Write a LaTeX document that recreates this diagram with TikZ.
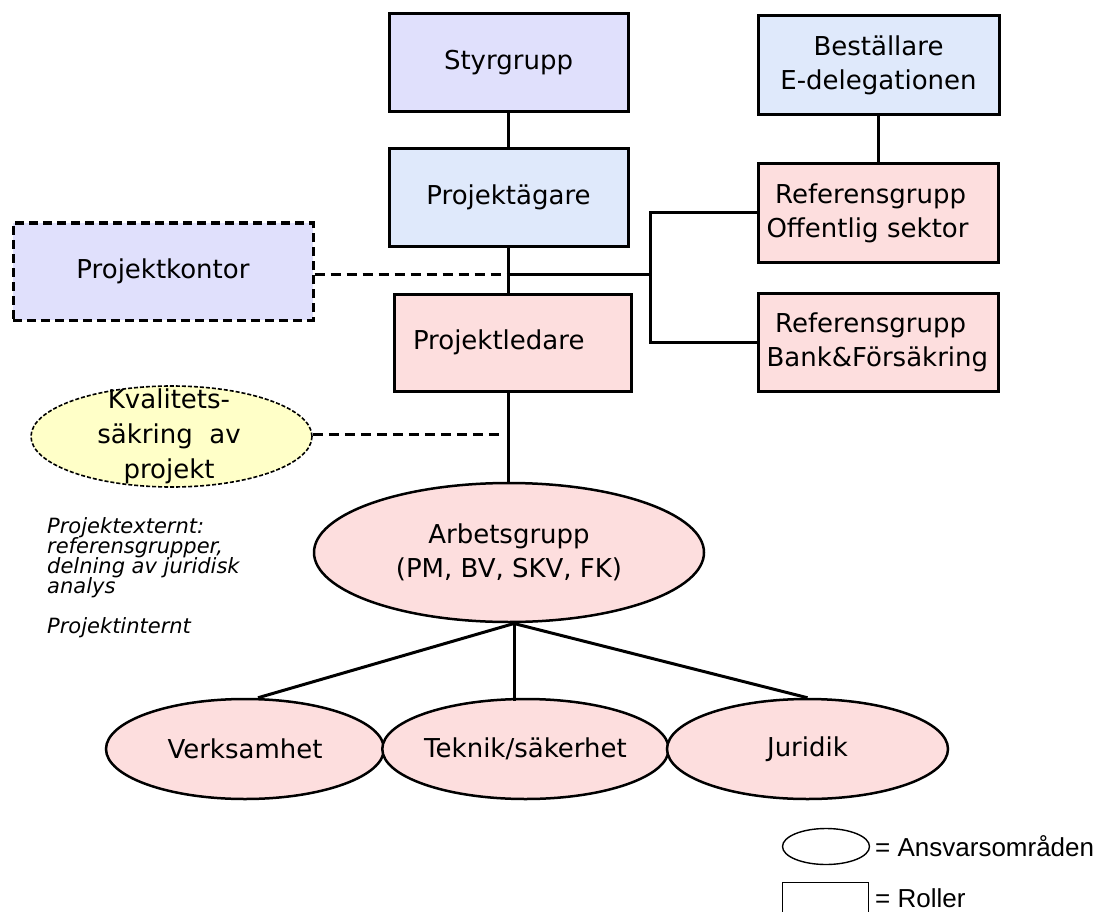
\documentclass[tikz,border=0pt]{standalone}
\usepackage{fontspec}
\setmainfont{DejaVu Sans}
\newfontfamily\legendfont{Liberation Sans}
\usetikzlibrary{shapes.geometric,calc}

\definecolor{lavfill}{RGB}{224,224,252}
\definecolor{bluefill}{RGB}{223,233,251}
\definecolor{pinkfill}{RGB}{253,222,222}
\definecolor{yellowfill}{RGB}{255,255,200}

\newcommand\boxfont{\fontsize{26}{34}\selectfont}
\newcommand\notefont{\fontsize{21}{20}\selectfont\itshape\lineskiplimit=-50pt\relax}
\newcommand\keyfont{\legendfont\fontsize{26}{30}\selectfont}

\tikzset{
  rolebox/.style={draw, rectangle, line width=3pt, inner sep=0pt, align=center, font=\boxfont},
  area/.style={draw, ellipse, line width=2.5pt, fill=pinkfill, inner sep=0pt, align=center, font=\boxfont},
  link/.style={line width=3pt},
  dlink/.style={line width=3pt, dash pattern=on 10pt off 6pt},
  keytext/.style={anchor=west, inner sep=0pt, font=\keyfont},
}

\begin{document}
\begin{tikzpicture}[x=1pt,y=-1pt]
\useasboundingbox (0,0) rectangle (1108,912);
\clip (0,0) rectangle (1108,912);

% roles
\node[rolebox, fill=lavfill, minimum width=239, minimum height=98] (styr) at (508.5,63) {Styrgrupp};
\node[rolebox, fill=bluefill, minimum width=241, minimum height=99] (best) at (878.5,65.5) {Beställare\\E-delegationen};
\node[rolebox, fill=bluefill, minimum width=239, minimum height=97] (pag) at (508.5,197.5) {Projektägare};
\node[rolebox, fill=lavfill, dash pattern=on 9pt off 5pt, minimum width=300, minimum height=97] (pk) at (163,271.5) {Projektkontor};
\node[rolebox, fill=pinkfill, minimum height=97, align=left, text width=199, inner xsep=19] (pl) at (512.5,342.5) {Projektledare};
\node[rolebox, fill=pinkfill, minimum height=98, align=left, text width=224, inner xsep=8] (refo) at (878.5,213) {\ Referensgrupp\\Offentlig sektor};
\node[rolebox, fill=pinkfill, minimum height=98, align=left, text width=224, inner xsep=8] (refb) at (878.5,342) {\ Referensgrupp\\Bank\&Försäkring};

% quality assurance
\node[ellipse, draw, fill=yellowfill, line width=1.6pt, dash pattern=on 4pt off 2pt,
      minimum width=281, minimum height=101, inner sep=0pt] (kval) at (171.5,436.5) {};
\node[align=center, inner sep=0pt, font=\fontsize{26}{35}\selectfont] (kvaltext) at (169,436.5)
  {Kvalitets-\\säkring\ \ av\\projekt};

% areas of responsibility
\node[area, minimum width=390, minimum height=139] (ag) at (509,552.5) {Arbetsgrupp\\(PM, BV, SKV, FK)};
\node[area, minimum width=278, minimum height=100] (verk) at (245,749) {Verksamhet};
\node[area, minimum width=279, minimum height=100] (tek) at (525.5,749) {Teknik/säkerhet};
\node[area, minimum width=281, minimum height=100] (jur) at (807.5,749) {Juridik};

% notes
\node[anchor=north west, inner sep=0pt, align=left, font=\notefont] (notes) at (47,517)
  {Projektexternt:\\referensgrupper,\\delning av juridisk\\analys\\[20pt]Projektinternt};

% connectors
\coordinate (j1) at (508.5,274);
\coordinate (j2) at (650,274);
\coordinate (kq) at (504,434.5);
\coordinate (agb) at (514,623.5);

\draw[link] (styr.south) -- (pag.north);
\draw[link] (best.south) -- (refo.north);
\draw[link] (pag.south) -- (pag.south |- pl.north);
\draw[link] (j1) -- (j2);
\draw[link] (refo.west) -- (j2 |- refo.west) -- (j2 |- refb.west) -- (refb.west);
\draw[dlink] (pk.east |- j1) -- (j1);
\draw[link] (pag.south |- pl.south) -- (pag.south |- ag.north);
\draw[dlink] (kval.east |- kq) -- (kq);
\draw[link] (agb) -- ([xshift=13pt]verk.north);
\draw[link] (agb) -- ([yshift=-3pt]agb |- tek.north);
\draw[link] (agb) -- (jur.north);

% key
\node[ellipse, draw, line width=1.4pt, minimum width=87, minimum height=36, inner sep=0pt] (keyE) at (826,846.5) {};
\node[keytext] (keyEt) at (875,846) {= Ansvarsområden};
\node[rectangle, draw, line width=1.4pt, minimum width=86, minimum height=50, inner sep=0pt, anchor=north] (keyR) at (825.5,881.5) {};
\node[keytext] (keyRt) at (875,898) {= Roller};
\end{tikzpicture}
\end{document}
